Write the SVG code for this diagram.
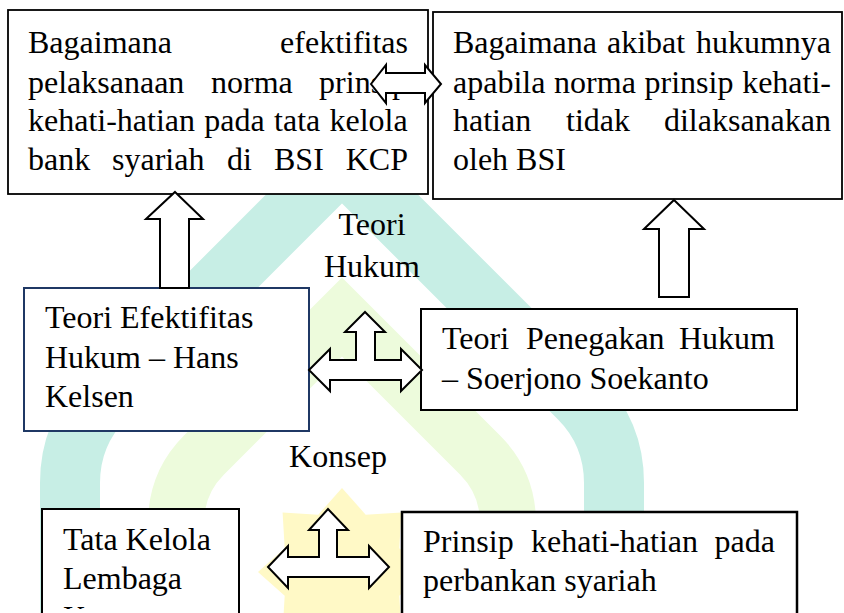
<svg xmlns="http://www.w3.org/2000/svg" width="844" height="613" viewBox="0 0 844 613">
<style>
.box{fill:#fff;stroke:#000;stroke-width:1.8}
.t{font-family:"Liberation Serif","Times New Roman",serif;font-size:32px;fill:#000}
.e{text-anchor:end}
.m{text-anchor:middle}
.arr{fill:#fff;stroke:#000;stroke-width:2;stroke-linejoin:miter}
.wm{fill:none;stroke-linejoin:miter}
</style>
<defs>
<clipPath id="cut"><rect x="42" y="509" width="197" height="100"/></clipPath>
</defs>
<rect width="844" height="613" fill="#fff"/>
<g id="watermark">
<path class="wm" d="M70,613 L70,483 Q70,433 105,398 L342,161 L579,398 Q614,433 614,483 L614,613" stroke="#c7eee5" stroke-width="60"/>
<path class="wm" d="M176,613 L176,523 Q176,483 204,455 L342,317 L480,455 Q508,483 508,523 L508,613" stroke="#edfbdc" stroke-width="56"/>
<polygon points="342,488 365.7,514.7 401.4,512.6 399.3,548.3 426,572 399.3,595.7 401.4,631.4 365.7,629.3 342,656 318.3,629.3 282.6,631.4 284.7,595.7 258,572 284.7,548.3 282.6,512.6 318.3,514.7" fill="#fff9c6"/>
</g>
<g id="q1">
<rect class="box" x="8" y="10" width="420" height="184"/>
<text class="t" y="53"><tspan x="28">Bagaimana</tspan><tspan class="e" x="408">efektifitas</tspan></text>
<text class="t" y="93"><tspan x="28">pelaksanaan</tspan><tspan x="211">norma</tspan><tspan class="e" x="408">prinsip</tspan></text>
<text class="t" y="131" x="28" word-spacing="1.3">kehati-hatian pada tata kelola</text>
<text class="t" y="170"><tspan x="28">bank</tspan><tspan x="112">syariah</tspan><tspan x="227">di</tspan><tspan x="274">BSI</tspan><tspan class="e" x="408">KCP</tspan></text>
</g>
<g id="q2">
<rect class="box" x="433" y="12" width="409" height="187"/>
<text class="t" y="53"><tspan x="453">Bagaimana</tspan><tspan x="607">akibat</tspan><tspan class="e" x="831">hukumnya</tspan></text>
<text class="t" y="93" x="453" word-spacing="0.7">apabila norma prinsip kehati-</text>
<text class="t" y="131"><tspan x="453">hatian</tspan><tspan x="566">tidak</tspan><tspan class="e" x="831">dilaksanakan</tspan></text>
<text class="t" y="170" x="453">oleh BSI</text>
</g>
<g id="kelsen">
<rect class="box" x="24" y="288" width="285" height="143" style="stroke:#1f3864;stroke-width:2"/>
<text class="t" x="45" y="328">Teori Efektifitas</text>
<text class="t" x="45" y="368">Hukum – Hans</text>
<text class="t" x="45" y="407">Kelsen</text>
</g>
<g id="soekanto">
<rect class="box" x="421" y="309" width="376" height="101" style="stroke-width:2"/>
<text class="t" y="349"><tspan x="442">Teori</tspan><tspan x="526">Penegakan</tspan><tspan class="e" x="775">Hukum</tspan></text>
<text class="t" x="442" y="389">– Soerjono Soekanto</text>
</g>
<g id="tatakelola">
<rect class="box" x="42" y="509" width="197" height="130" style="stroke-width:2"/>
<text class="t" x="63" y="550">Tata Kelola</text>
<text class="t" x="63" y="589">Lembaga</text>
<text class="t" x="63" y="628" clip-path="url(#cut)">Keuangan</text>
</g>
<g id="prinsip">
<rect class="box" x="402" y="512" width="395" height="130" style="stroke-width:2.5"/>
<text class="t" y="552"><tspan x="423">Prinsip</tspan><tspan x="531">kehati-hatian</tspan><tspan class="e" x="775">pada</tspan></text>
<text class="t" x="423" y="591">perbankan syariah</text>
</g>
<g id="label-teori-hukum">
<text class="t m" x="372" y="235">Teori</text>
<text class="t m" x="372" y="277">Hukum</text>
</g>
<g id="label-konsep">
<text class="t m" x="338" y="467">Konsep</text>
</g>
<g id="connectors">
<polygon class="arr" points="371,84 386,65 386,73 425,73 425,65 441,84 425,103 425,93 386,93 386,103"/>
<polygon class="arr" points="175,192 203,219 189,219 189,288 160,288 160,219 146,219"/>
<polygon class="arr" points="674,200 704,229 689,229 689,297 659,297 659,229 644,229"/>
<polygon class="arr" points="309,370 330,349 330,360 356,360 356,332 345,332 365,312 385,332 375,332 375,360 401,360 401,349 422,370 401,391 401,380 330,380 330,391"/>
<polygon class="arr" points="268,567 288,546 288,557 319,557 319,530 309,530 328,509 348,530 337,530 337,557 369,557 369,546 389,567 369,588 369,577 288,577 288,588"/>
</g>
</svg>
